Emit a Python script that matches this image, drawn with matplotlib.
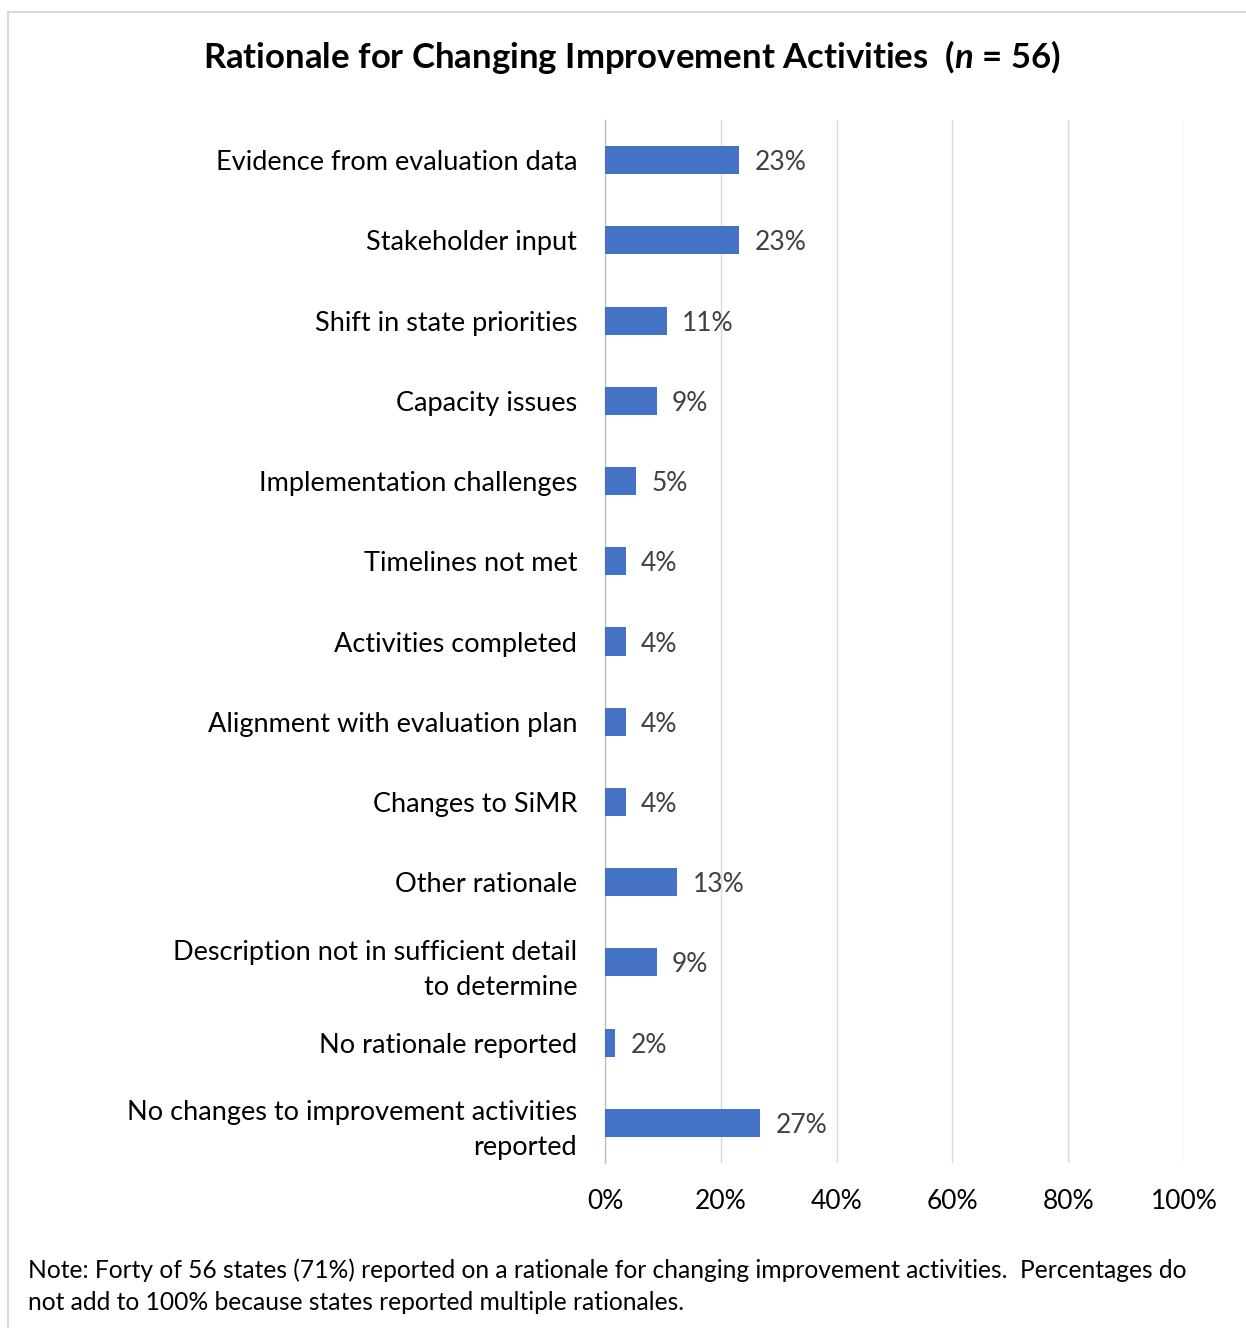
import matplotlib.pyplot as plt
from matplotlib.patches import Rectangle

plt.rcParams["font.family"] = ["Lato", "DejaVu Sans"]
plt.rcParams["mathtext.fontset"] = "custom"
plt.rcParams["mathtext.it"] = "Lato:italic:bold"

# Data
categories = [
    "Evidence from evaluation data",
    "Stakeholder input",
    "Shift in state priorities",
    "Capacity issues",
    "Implementation challenges",
    "Timelines not met",
    "Activities completed",
    "Alignment with evaluation plan",
    "Changes to SiMR",
    "Other rationale",
    "Description not in sufficient detail\nto determine",
    "No rationale reported",
    "No changes to improvement activities\nreported",
]
values = [23.2, 23.2, 10.7, 8.9, 5.4, 3.6, 3.6, 3.6, 3.6, 12.5, 8.9, 1.8, 26.8]
value_labels = ["23%", "23%", "11%", "9%", "5%", "4%", "4%", "4%", "4%",
                "13%", "9%", "2%", "27%"]
x_ticks = [0, 20, 40, 60, 80, 100]
x_tick_labels = ["0%", "20%", "40%", "60%", "80%", "100%"]

fig = plt.figure(figsize=(12.46, 13.28), dpi=100)

# light frame around the chart area
fig.patches.append(Rectangle((8 / 1246, -0.01), 1.2, 1 - 12 / 1328 + 0.01,
                             transform=fig.transFigure, fill=False,
                             edgecolor="#D9D9D9", linewidth=1.5))

ax = fig.add_axes([605 / 1246, 1 - 1163 / 1328, 579 / 1246, (1163 - 120) / 1328])

y = list(range(len(categories)))
ax.barh(y, values, height=0.35, color="#4472C4", zorder=3)

for yi, v, lab in zip(y, values, value_labels):
    ax.annotate(lab, (v, yi), xytext=(11, 0), textcoords="offset points",
                va="center_baseline", ha="left", fontsize=19, color="#404040")

ax.set_xlim(0, 100)
ax.set_ylim(len(categories) - 0.5, -0.5)
ax.set_xticks(x_ticks)
ax.set_xticklabels(x_tick_labels, fontsize=19, color="#000000")
ax.set_yticks(y)
ax.set_yticklabels(categories, fontsize=19.5, color="#000000", ha="right",
                   linespacing=1.5)
ax.tick_params(axis="both", length=0)
ax.tick_params(axis="x", pad=19)
ax.tick_params(axis="y", pad=20)

ax.grid(axis="x", color="#D9D9D9", linewidth=1, zorder=0)
for s in ["top", "right", "bottom"]:
    ax.spines[s].set_visible(False)
ax.spines["left"].set_color("#BFBFBF")
ax.spines["left"].set_linewidth(1)

fig.text(632 / 1246, 1 - 57 / 1328,
         r"Rationale for Changing Improvement Activities  ($\mathit{n}$ = 56)",
         ha="center", va="center", fontsize=25, fontweight="bold")

fig.text(28 / 1246, 1 - 1270 / 1328,
         "Note: Forty of 56 states (71%) reported on a rationale for changing improvement activities.  Percentages do",
         ha="left", va="center", fontsize=17.7)
fig.text(28 / 1246, 1 - 1303 / 1328,
         "not add to 100% because states reported multiple rationales.",
         ha="left", va="center", fontsize=17.7)

fig.savefig("out.png", dpi=100)
